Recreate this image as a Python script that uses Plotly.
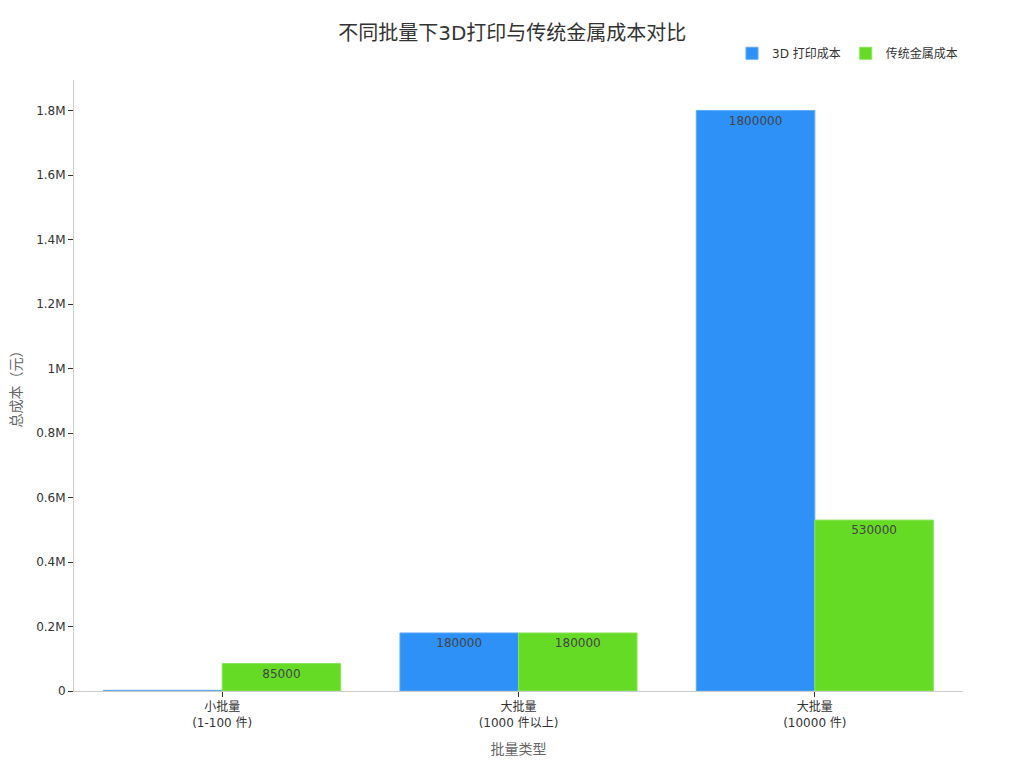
import plotly.graph_objects as go

# Data
categories = ["小批量<br>(1-100 件)", "大批量<br>(1000 件以上)", "大批量<br>(10000 件)"]
print_3d_cost = [2000, 180000, 1800000]
metal_cost = [85000, 180000, 530000]
y_tick_vals = [0, 200000, 400000, 600000, 800000, 1000000, 1200000, 1400000, 1600000, 1800000]
y_tick_text = ["0", "0.2M", "0.4M", "0.6M", "0.8M", "1M", "1.2M", "1.4M", "1.6M", "1.8M"]

fig = go.Figure()

fig.add_trace(go.Bar(
    x=categories,
    y=print_3d_cost,
    name="3D 打印成本",
    text=print_3d_cost,
    textposition="inside",
    insidetextanchor="end",
    textfont=dict(color="#444444", size=12),
    marker=dict(color="#2E91F7", line=dict(color="#5AAAF9", width=1))
))

fig.add_trace(go.Bar(
    x=categories,
    y=metal_cost,
    name="传统金属成本",
    text=metal_cost,
    textposition="inside",
    insidetextanchor="end",
    textfont=dict(color="#444444", size=12),
    marker=dict(color="#66DB26", line=dict(color="#8AE45A", width=1))
))

fig.update_layout(
    title=dict(text="不同批量下3D打印与传统金属成本对比", x=0.4925, xanchor="center",
               y=0.967, yanchor="middle", font=dict(size=20, color="#333333")),
    font=dict(family="DejaVu Sans, Noto Sans CJK SC", size=12, color="#333333"),
    plot_bgcolor="white",
    paper_bgcolor="white",
    barmode="group",
    bargap=0.2,
    bargroupgap=0,
    width=1024,
    height=768,
    margin=dict(l=66, r=69, t=72, b=85),
    legend=dict(orientation="h", x=1, xanchor="right", y=1.02, yanchor="bottom",
                font=dict(size=12)),
    xaxis=dict(title=dict(text="批量类型", font=dict(size=14, color="#666666")),
               showline=True, linecolor="#CCCCCC", ticks="outside", ticklen=5,
               tickcolor="#333333"),
    yaxis=dict(title=dict(text="总成本（元）", font=dict(size=14, color="#666666")),
               showline=True, linecolor="#CCCCCC", showgrid=False, zeroline=False,
               ticks="outside", ticklen=5, tickcolor="#333333", automargin=False,
               tickvals=y_tick_vals, ticktext=y_tick_text),
)

fig.write_html("out.html")
